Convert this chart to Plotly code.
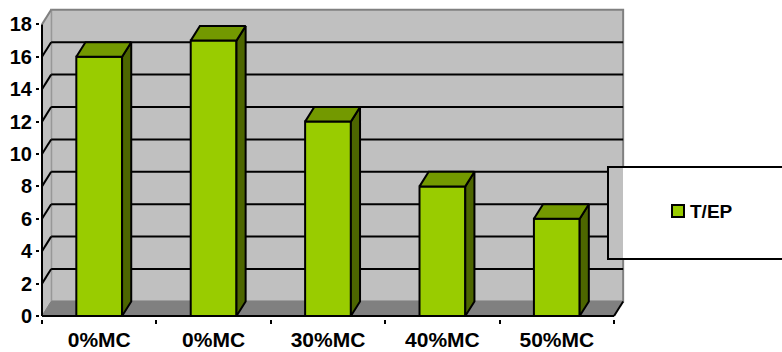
import plotly.graph_objects as go

categories = ["0%MC", "0%MC", "30%MC", "40%MC", "50%MC"]
values = [16, 17, 12, 8, 6]
y_ticks = [0, 2, 4, 6, 8, 10, 12, 14, 16, 18]
series_name = "T/EP"

BAR_W = 0.4
DX, DY = 0.08, 0.9       # depth of the 3D box in axis units
X0, X1 = -0.5, 4.5
X_TOP = X1 + DX
FONT = "Liberation Sans"
W, H = 782, 352
L, R, T, B = 40, 157, 8, 33

# Pixel scale of the axes; the plot area leaves a little room round the box for its heavy outlines
PX_PER_CAT = 114.4
PX_PER_UNIT = 16.2
X_MIN = X0 - 2 / PX_PER_CAT
X_MAX = X_MIN + (W - L - R) / PX_PER_CAT
Y_MIN = -3 / PX_PER_UNIT
Y_MAX = Y_MIN + (H - T - B) / PX_PER_UNIT


def poly(points, color, line="#000000", width=2):
    return dict(type="path", xref="x", yref="y", layer="below",
                path="M" + "L".join(f"{x},{y}" for x, y in points) + "Z",
                fillcolor=color, line=dict(color=line, width=width))


def seg(x0, y0, x1, y1, color="#000000", width=2, layer="below"):
    return dict(type="line", xref="x", yref="y", layer=layer, x0=x0, y0=y0, x1=x1, y1=y1,
                line=dict(color=color, width=width))


shapes = [
    poly([(X0 + DX, DY), (X_TOP, DY), (X_TOP, 18 + DY), (X0 + DX, 18 + DY)], "#c0c0c0", "#808080", 2),
    poly([(X0, 0), (X0 + DX, DY), (X0 + DX, 18 + DY), (X0, 18)], "#c0c0c0", "#a0a0a0", 1),
    poly([(X0, 0), (X1, 0), (X_TOP, DY), (X0 + DX, DY)], "#808080", "#808080", 1),
]
for v in y_ticks[1:-1]:
    shapes.append(seg(X0, v, X0 + DX, v + DY))
    shapes.append(seg(X0 + DX, v + DY, X_TOP, v + DY))
shapes.append(seg(X0, 18, X0 + DX, 18 + DY, "#808080"))
shapes.append(seg(X0, 0, X0, 18))
shapes.append(seg(X0, 0, X1, 0))
shapes.append(seg(X1, 0, X_TOP, DY))


# Legend panel: grey where it overlaps the wall, white beyond it
def px(x):
    return (x - L) / (W - L - R)


def py(y):
    return 1 - (y - T) / (H - T - B)


shapes += [
    dict(type="rect", xref="paper", yref="paper", layer="above", x0=px(608), x1=px(623), y0=py(259), y1=py(167),
         fillcolor="#c0c0c0", line=dict(width=0)),
    dict(type="rect", xref="paper", yref="paper", layer="above", x0=px(623), x1=px(783), y0=py(259), y1=py(167),
         fillcolor="#ffffff", line=dict(width=0)),
    dict(type="path", xref="paper", yref="paper", layer="above",
         path=f"M{px(783)},{py(167)}L{px(608)},{py(167)}L{px(608)},{py(259)}L{px(783)},{py(259)}",
         line=dict(color="#000000", width=2)),
    dict(type="rect", xref="paper", yref="paper", layer="above", x0=px(672), x1=px(684), y0=py(217), y1=py(205),
         fillcolor="#99cc00", line=dict(color="#000000", width=2)),
]

fig = go.Figure()
fig.add_trace(go.Bar(x=list(range(len(values))), y=values, width=BAR_W, name=series_name,
                     marker=dict(color="#99cc00", line=dict(color="#000000", width=2)),
                     showlegend=False, hoverinfo="skip"))

for i, v in enumerate(values):
    a, b = i - BAR_W / 2, i + BAR_W / 2
    fig.add_trace(go.Scatter(x=[b, b + DX, b + DX, b, b], y=[0, DY, v + DY, v, 0], mode="lines", fill="toself",
                             fillcolor="#4d6600", line=dict(color="#000000", width=2), showlegend=False,
                             hoverinfo="skip"))
    fig.add_trace(go.Scatter(x=[a, b, b + DX, a + DX, a], y=[v, v, v + DY, v + DY, v], mode="lines", fill="toself",
                             fillcolor="#739900", line=dict(color="#000000", width=2), showlegend=False,
                             hoverinfo="skip"))

fig.update_layout(
    width=W, height=H, margin=dict(l=L, r=R, t=T, b=B), autosize=False,
    paper_bgcolor="#ffffff", plot_bgcolor="rgba(0,0,0,0)",
    font=dict(family=FONT, color="#000000", size=19),
    shapes=shapes,
    showlegend=False,
    annotations=[dict(text=series_name, xref="paper", yref="paper", x=px(688), y=py(211), xanchor="left",
                      yanchor="middle", showarrow=False, xshift=0,
                      font=dict(family=FONT, size=19, weight="bold"))],
    xaxis=dict(range=[X_MIN, X_MAX], tickmode="array", tickvals=list(range(len(categories))), ticktext=categories,
               ticks="", showgrid=False, zeroline=False, showline=False, ticklabelstandoff=6, automargin=False,
               tickfont=dict(family=FONT, size=21, weight="bold"),
               minor=dict(tickmode="array", tickvals=[i - 0.5 for i in range(len(categories) + 1)],
                          ticks="outside", ticklen=4, tickwidth=2, tickcolor="#000000", showgrid=False)),
    yaxis=dict(range=[Y_MIN, Y_MAX], tickmode="array", tickvals=y_ticks, ticks="outside", ticklen=3, tickwidth=2,
               tickcolor="#000000", showgrid=False, zeroline=False, showline=False, automargin=False,
               tickfont=dict(family=FONT, size=20, weight="bold")),
)

fig.write_html("out.html")
